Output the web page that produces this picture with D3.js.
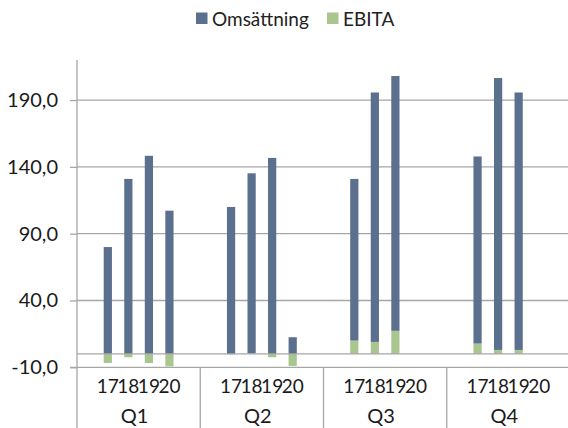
<!DOCTYPE html>
<html>
<head>
<meta charset="utf-8">
<script src="https://cdn.jsdelivr.net/npm/d3@7"></script>
<style>
  html, body { margin: 0; padding: 0; background: #fff; }
  svg { display: block; font-family: Lato, "Open Sans", sans-serif; }
</style>
</head>
<body>
<svg id="chart" width="568" height="428"></svg>
<script>
const quarters = ["Q1", "Q2", "Q3", "Q4"];
const years = ["17", "18", "19", "20"];
const seriesNames = ["Omsättning", "EBITA"];
// values per quarter, per year (null = no data)
const omsattning = [
  [80, 131, 148.3, 107.2],
  [110, 134.7, 146.7, 12.5],
  [121, 186.7, 190.7, null],
  [140, 203.5, 192.7, null]
];
const ebita = [
  [-6.8, -2.5, -6.8, -9.3],
  [-0.3, 0.5, -2.5, -9],
  [10, 9, 17.3, null],
  [7.8, 3, 3, null]
];
const yTicks = [-10, 40, 90, 140, 190];
const yMin = -10, yMax = 220;

const colors = { "Omsättning": "#5b6f8e", "EBITA": "#a9c68f" };
const gridColor = "#a6a6a6";
const textColor = "#1a1a1a";

const svg = d3.select("#chart");
const W = 568, H = 428;
const m = { left: 77, right: -2, top: 60, bottom: 60.7 };

const x0 = d3.scaleBand().domain(quarters).range([m.left, W - m.right]).padding(0);
const bw = x0.bandwidth();
const x1 = d3.scaleBand().domain(years).range([bw / 6, bw * 5 / 6]).paddingInner(0.6).paddingOuter(0.3);
const y = d3.scaleLinear().domain([yMin, yMax]).range([H - m.bottom, m.top]);

// flat rows
const rows = [];
quarters.forEach((q, qi) => years.forEach((yr, yi) => {
  if (omsattning[qi][yi] == null) return;
  rows.push({ q, yr, "EBITA": ebita[qi][yi], "Omsättning": omsattning[qi][yi] });
}));

const stack = d3.stack().keys(["EBITA", "Omsättning"]).offset(d3.stackOffsetDiverging);
const stacked = stack(rows);

// gridlines
svg.append("g").selectAll("line").data(yTicks.filter(t => t !== yMin)).join("line")
  .attr("x1", m.left).attr("x2", W)
  .attr("y1", d => y(d)).attr("y2", d => y(d))
  .attr("stroke", gridColor).attr("stroke-width", 1.3);

// bars
svg.append("g").selectAll("g").data(stacked).join("g")
  .attr("fill", d => colors[d.key])
  .selectAll("rect").data(d => d).join("rect")
  .attr("x", d => x0(d.data.q) + x1(d.data.yr))
  .attr("width", x1.bandwidth())
  .attr("y", d => y(Math.max(d[0], d[1])))
  .attr("height", d => Math.abs(y(d[0]) - y(d[1])));

// zero line
svg.append("line")
  .attr("x1", m.left).attr("x2", W)
  .attr("y1", y(0)).attr("y2", y(0))
  .attr("stroke", gridColor).attr("stroke-width", 1.3);

// y axis
const yAxis = d3.axisLeft(y).tickValues(yTicks).tickSize(7).tickPadding(12)
  .tickFormat(d => d3.format(".1f")(d).replace(".", ",").replace("\u2212", "-"));
const gy = svg.append("g").attr("transform", `translate(${m.left},0)`).call(yAxis);
gy.select(".domain").remove();
gy.selectAll(".tick line").attr("stroke", gridColor).attr("stroke-width", 1.3);
gy.selectAll(".tick text").attr("fill", textColor).attr("font-size", 20)
  .attr("font-family", "Lato, sans-serif");

// axis lines
svg.append("line").attr("x1", m.left).attr("x2", m.left).attr("y1", m.top).attr("y2", H)
  .attr("stroke", gridColor).attr("stroke-width", 1.3);
svg.append("line").attr("x1", m.left - 7).attr("x2", W).attr("y1", y(yMin)).attr("y2", y(yMin))
  .attr("stroke", gridColor).attr("stroke-width", 1.3);
// quarter separators
svg.append("g").selectAll("line").data(quarters.slice(1).concat(["end"])).join("line")
  .attr("x1", (d, i) => x0(quarters[0]) + (i + 1) * bw)
  .attr("x2", (d, i) => x0(quarters[0]) + (i + 1) * bw)
  .attr("y1", y(yMin)).attr("y2", H)
  .attr("stroke", gridColor).attr("stroke-width", 1.3);

// category labels
const catG = svg.append("g").attr("fill", textColor).attr("font-size", 19).attr("text-anchor", "middle");
quarters.forEach(q => {
  years.forEach(yr => {
    catG.append("text").attr("x", x0(q) + x1(yr) + x1.bandwidth() / 2)
      .attr("y", y(yMin) + 26).text(yr);
  });
  catG.append("text").attr("x", x0(q) + bw / 2 - 4).attr("y", y(yMin) + 56).attr("font-size", 20).text(q);
});

// legend
const leg = svg.append("g").attr("font-size", 19).attr("fill", "#222");
const legX = [196, 327];
seriesNames.forEach((s, i) => {
  leg.append("rect").attr("x", legX[i]).attr("y", 12.5).attr("width", 11.5).attr("height", 11.5).attr("fill", colors[s]);
  leg.append("text").attr("x", legX[i] + 16).attr("y", 25.5).text(s);
});
</script>
</body>
</html>
